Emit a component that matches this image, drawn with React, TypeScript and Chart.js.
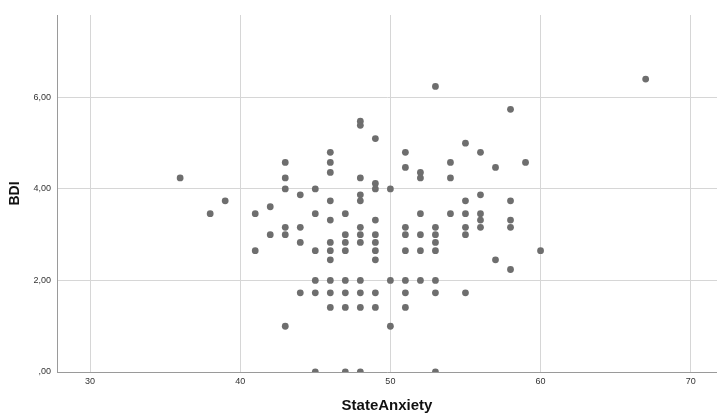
import React, { useEffect, useRef } from "react";
import { Chart, registerables } from "chart.js";

Chart.register(...registerables);

// StateAnxiety (x) and BDI (y) pairs
const stateAnxiety = [
  36,
  38,
  39,
  41, 41,
  42, 42,
  43, 43, 43, 43, 43, 43,
  44, 44, 44, 44,
  45, 45, 45, 45, 45, 45,
  46, 46, 46, 46, 46, 46, 46, 46, 46, 46, 46,
  47, 47, 47, 47, 47, 47, 47, 47,
  48, 48, 48, 48, 48, 48, 48, 48, 48, 48, 48, 48,
  49, 49, 49, 49, 49, 49, 49, 49, 49, 49,
  50, 50, 50,
  51, 51, 51, 51, 51, 51, 51, 51,
  52, 52, 52, 52, 52, 52,
  53, 53, 53, 53, 53, 53, 53, 53,
  54, 54, 54,
  55, 55, 55, 55, 55, 55,
  56, 56, 56, 56, 56,
  57, 57,
  58, 58, 58, 58, 58,
  59,
  60,
  67,
];

const bdi = [
  4.24,
  3.46,
  3.74,
  3.46, 2.65,
  3.61, 3.0,
  4.58, 4.24, 4.0, 3.16, 3.0, 1.0,
  3.87, 3.16, 2.83, 1.73,
  4.0, 3.46, 2.65, 2.0, 1.73, 0.0,
  4.8, 4.58, 4.36, 3.74, 3.32, 2.83, 2.65, 2.45, 2.0, 1.73, 1.41,
  3.46, 3.0, 2.83, 2.65, 2.0, 1.73, 1.41, 0.0,
  5.48, 5.39, 4.24, 3.87, 3.74, 3.16, 3.0, 2.83, 2.0, 1.73, 1.41, 0.0,
  5.1, 4.12, 4.0, 3.32, 3.0, 2.83, 2.65, 2.45, 1.73, 1.41,
  4.0, 2.0, 1.0,
  4.8, 4.47, 3.16, 3.0, 2.65, 2.0, 1.73, 1.41,
  4.36, 4.24, 3.46, 3.0, 2.65, 2.0,
  6.24, 3.16, 3.0, 2.83, 2.65, 2.0, 1.73, 0.0,
  4.58, 4.24, 3.46,
  5.0, 3.74, 3.46, 3.16, 3.0, 1.73,
  4.8, 3.87, 3.46, 3.32, 3.16,
  4.47, 2.45,
  5.74, 3.74, 3.32, 3.16, 2.24,
  4.58,
  2.65,
  6.4,
];

const xTitle = "StateAnxiety";
const yTitle = "BDI";
const xRange = [27.8, 71.75];
const yRange = [0, 7.8];

const FONT = "'Liberation Sans', Arial, sans-serif";

export default function App() {
  const ref = useRef<HTMLCanvasElement | null>(null);

  useEffect(() => {
    if (!ref.current) return;
    const points = stateAnxiety.map((x, i) => ({ x, y: bdi[i] }));
    const chart = new Chart(ref.current, {
      type: "scatter",
      data: {
        datasets: [
          {
            data: points,
            backgroundColor: "#6e6e6e",
            borderColor: "#6e6e6e",
            borderWidth: 0,
            pointRadius: 3.4,
          },
        ],
      },
      options: {
        animation: false,
        responsive: false,
        devicePixelRatio: 1,
        layout: { autoPadding: false, padding: { top: 15, right: 0, left: 0, bottom: 0 } },
        plugins: { legend: { display: false }, tooltip: { enabled: false } },
        scales: {
          x: {
            type: "linear",
            min: xRange[0],
            max: xRange[1],
            afterFit: (s: any) => {
              s.height = 43;
              s.paddingLeft = 0;
              s.paddingRight = 0;
            },
            ticks: {
              stepSize: 10,
              includeBounds: false,
              padding: 4,
              color: "#333",
              font: { family: FONT, size: 9 },
              maxRotation: 0,
            },
            grid: { color: "#d6d6d6", lineWidth: 1, drawTicks: false },
            border: { color: "#9a9a9a", width: 1 },
            title: {
              display: true,
              text: xTitle,
              color: "#111",
              font: { family: FONT, size: 15, weight: "bold" },
              padding: { top: 0, bottom: 0 },
            },
          },
          y: {
            type: "linear",
            min: yRange[0],
            max: yRange[1],
            afterFit: (s: any) => {
              s.width = 57;
              s.paddingTop = 0;
              s.paddingBottom = 0;
            },
            ticks: {
              stepSize: 2,
              includeBounds: false,
              padding: 6,
              color: "#333",
              font: { family: FONT, size: 9 },
              callback: (v: any) => {
                const n = Number(v);
                const s = n.toFixed(2).replace(".", ",");
                return n === 0 ? ",00" : s;
              },
            },
            grid: { color: "#d6d6d6", lineWidth: 1, drawTicks: false },
            border: { color: "#9a9a9a", width: 1 },
            title: {
              display: true,
              text: yTitle,
              color: "#111",
              font: { family: FONT, size: 14, weight: "bold" },
              padding: { top: 7, bottom: 0 },
            },
          },
        },
      },
    });
    return () => chart.destroy();
  }, []);

  return (
    <div style={{ position: "fixed", left: 0, top: 0, width: 717, height: 415, background: "#fff" }}>
      <canvas ref={ref} width={717} height={415} style={{ display: "block" }} />
    </div>
  );
}
